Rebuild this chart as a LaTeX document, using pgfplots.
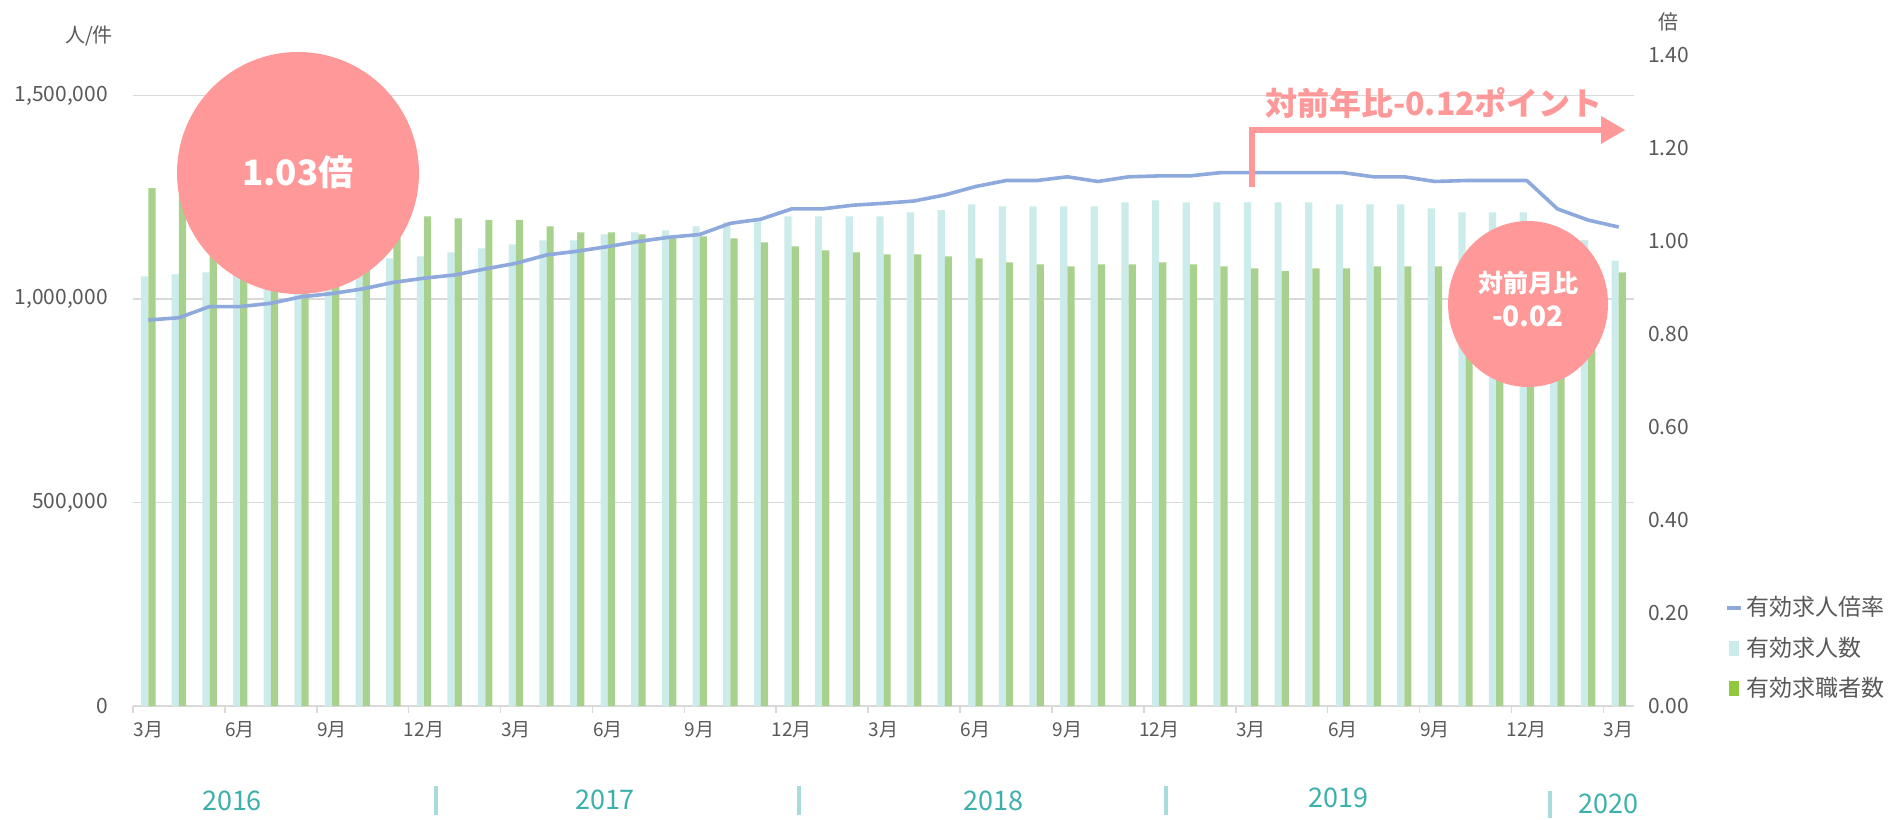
\documentclass[border=0pt]{standalone}
\usepackage{pgfplots}
\usepackage{pgfplotstable}
\pgfplotsset{compat=1.18}
\usepackage{fontspec}
\setmainfont{Noto Sans CJK JP}
\definecolor{lightbar}{HTML}{CCEBEB}
\definecolor{greenbar}{HTML}{A9D18E}
\definecolor{legendgreen}{HTML}{92C83E}
\definecolor{linec}{HTML}{8EA9DB}
\definecolor{pinkc}{HTML}{FF9999}
\definecolor{tickc}{HTML}{595959}
\definecolor{gridc}{HTML}{D9D9D9}
\definecolor{yearc}{HTML}{3CB0AC}
\definecolor{sepc}{HTML}{A8DCDC}

\pgfplotstableread{
i  jobs     seekers  ratio
0  1056000  1272600  0.830
1  1061000  1258600  0.835
2  1066000  1248000  0.859
3  1070000  1240000  0.859
4  1077000  1232000  0.866
5  1083000  1224000  0.880
6  1088000  1217000  0.887
7  1093000  1212000  0.897
8  1100000  1208000  0.911
9  1105000  1203600  0.920
10 1115000  1198700  0.927
11 1124800  1194600  0.940
12 1134600  1194600  0.952
13 1144500  1179000  0.970
14 1144500  1164300  0.978
15 1159300  1164300  0.988
16 1164300  1159300  0.999
17 1169200  1154400  1.008
18 1179000  1154400  1.014
19 1188900  1149400  1.038
20 1197000  1139600  1.047
21 1203600  1129700  1.069
22 1203600  1119900  1.069
23 1203600  1115000  1.077
24 1203600  1110000  1.081
25 1213300  1110000  1.086
26 1219000  1105000  1.099
27 1233000  1100000  1.117
28 1228000  1090500  1.130
29 1228000  1085500  1.130
30 1228000  1080500  1.138
31 1228000  1085500  1.128
32 1238000  1085500  1.138
33 1243000  1090500  1.140
34 1238000  1085500  1.140
35 1238000  1080500  1.147
36 1238000  1075600  1.147
37 1238000  1069700  1.147
38 1238000  1075600  1.147
39 1233000  1075600  1.147
40 1233000  1080500  1.138
41 1233000  1080500  1.138
42 1223000  1080500  1.128
43 1213300  1080000  1.130
44 1213300  1082000  1.130
45 1213300  1080000  1.130
46 1180000  1070000  1.069
47 1145000  1062000  1.045
48 1094400  1065700  1.030
}\datatable

\begin{document}
\begin{tikzpicture}
\path[use as bounding box] (-66.5pt,-56.5pt) rectangle (882.5pt,353pt);
\begin{axis}[
  at={(0,0)}, anchor=south west,
  scale only axis, width=750.5pt, height=325.5pt,
  xmin=-0.5, xmax=48.5, ymin=0, ymax=1600000,
  scaled y ticks=false,
  ybar=0pt, bar width=3.6pt,
  axis x line*=bottom, axis y line*=left,
  y axis line style={draw=none},
  x axis line style={draw=gridc, line width=1pt, -},
  xtick={0,3,...,48},
  xticklabels={3月,6月,9月,12月,3月,6月,9月,12月,3月,6月,9月,12月,3月,6月,9月,12月,3月},
  xtick style={draw=gridc, line width=0.8pt},
  major tick length=0pt,
  extra x ticks={-0.5,2.5,...,47.5},
  extra x tick labels={},
  extra x tick style={major tick length=3.5pt, tick align=outside, grid=none},
  ytick={0,500000,1000000,1500000},
  yticklabels={0,{500,000},{1,000,000},{1,500,000}},
  ymajorgrids, grid style={draw=gridc, line width=0.8pt},
  xticklabel style={font=\fontsize{9.5}{11}\selectfont, text=tickc, yshift=-4pt},
  yticklabel style={font=\fontsize{10.5}{12}\selectfont, text=tickc, xshift=-9pt},
  clip=false,
]
\addplot[draw=none, fill=lightbar] table[x=i, y=jobs] {\datatable};
\addplot[draw=none, fill=greenbar] table[x=i, y=seekers] {\datatable};
\end{axis}
\begin{axis}[
  at={(0,0)}, anchor=south west,
  scale only axis, width=750.5pt, height=325.5pt,
  xmin=-0.5, xmax=48.5, ymin=0, ymax=1.4,
  axis x line=none, axis y line*=right,
  y axis line style={draw=none},
  ytick={0,0.2,0.4,0.6,0.8,1.0,1.2,1.4},
  yticklabels={0.00,0.20,0.40,0.60,0.80,1.00,1.20,1.40},
  major tick length=0pt,
  yticklabel style={font=\fontsize{10.5}{12}\selectfont, text=tickc, xshift=3.5pt},
  legend style={draw=none, fill=none, at={(1.059,0.0)}, anchor=south west,
    font=\fontsize{11.5}{13}\selectfont, text=tickc, row sep=5pt,
    inner sep=1pt},
  legend cell align=left,
]
\addplot[linec, line width=1.8pt, line join=round,
  legend image code/.code={\draw[linec, line width=1.8pt] (0pt,0pt) -- (7pt,0pt);}]
  table[x=i, y=ratio] {\datatable};
\addlegendentry{有効求人倍率}
\addlegendimage{legend image code/.code={\fill[lightbar] (1.5pt,-3.5pt) rectangle (6pt,3.5pt);}}
\addlegendentry{有効求人数}
\addlegendimage{legend image code/.code={\fill[legendgreen] (1.5pt,-3.5pt) rectangle (6pt,3.5pt);}}
\addlegendentry{有効求職者数}
\end{axis}

% unit labels
\node[text=tickc, font=\fontsize{10}{12}\selectfont] at (-22pt,335pt) {人/件};
\node[text=tickc, font=\fontsize{10}{12}\selectfont] at (767.5pt,342pt) {倍};

% circles
\fill[pinkc] (82.5pt,266.5pt) circle (60.5pt);
\node[text=white, font=\bfseries\fontsize{17.5}{20}\selectfont] at (82.5pt,267pt) {1.03倍};
\fill[pinkc] (697.5pt,201pt) ellipse (40pt and 41.5pt);
\node[text=white, font=\bfseries\fontsize{12.5}{15}\selectfont] at (697.5pt,211.4pt) {対前月比};
\node[text=white, font=\bfseries\fontsize{14}{16}\selectfont] at (697.5pt,195pt) {-0.02};

% arrow
\draw[pinkc, line width=3.3pt] (559.5pt,259.5pt) -- (559.5pt,288pt) -- (736pt,288pt);
\fill[pinkc] (734pt,295pt) -- (746pt,288pt) -- (734pt,281pt) -- cycle;
\node[text=pinkc, font=\bfseries\fontsize{16}{19}\selectfont] at (650.5pt,301.5pt) {対前年比-0.12ポイント};

% years
\node[text=yearc, font=\fontsize{13.5}{16}\selectfont] at (49.5pt,-47.5pt) {2016};
\node[text=yearc, font=\fontsize{13.5}{16}\selectfont] at (236pt,-47pt) {2017};
\node[text=yearc, font=\fontsize{13.5}{16}\selectfont] at (430pt,-47.5pt) {2018};
\node[text=yearc, font=\fontsize{13.5}{16}\selectfont] at (602.5pt,-46pt) {2019};
\node[text=yearc, font=\fontsize{13.5}{16}\selectfont] at (737.5pt,-49pt) {2020};
\fill[sepc] (150.5pt,-54.5pt) rectangle (152.5pt,-40pt);
\fill[sepc] (332pt,-54.5pt) rectangle (334pt,-40pt);
\fill[sepc] (515.5pt,-54.5pt) rectangle (517.5pt,-40pt);
\fill[sepc] (707.5pt,-56pt) rectangle (709.5pt,-42.5pt);
\end{tikzpicture}
\end{document}
